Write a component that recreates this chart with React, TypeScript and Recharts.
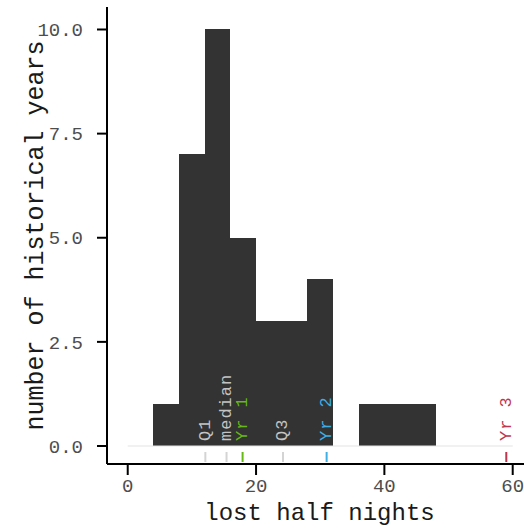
import React from 'react';
import {
  ComposedChart,
  XAxis,
  YAxis,
  ReferenceArea,
  ReferenceLine,
  Scatter,
} from 'recharts';

const binStarts = [4, 8, 12, 16, 20, 24, 28, 32, 36, 40, 44];
const binEnds = [8, 12, 16, 20, 24, 28, 32, 36, 40, 44, 48];
const binCounts = [1, 7, 10, 5, 3, 3, 4, 0, 1, 1, 1];

const markerNames = ['Q1', 'median', 'Yr 1', 'Q3', 'Yr 2', 'Yr 3'];
const markerValues = [12.1, 15.4, 17.9, 24.2, 31.0, 59.0];
const markerLineColors = ['#d4d4d4', '#d4d4d4', '#66b814', '#d4d4d4', '#3eaee6', '#c0344d'];
const markerTextColors = ['#c4c4c4', '#c4c4c4', '#66b814', '#c4c4c4', '#3eaee6', '#c0344d'];

const xTicks = [0, 20, 40, 60];
const yTicks = [0, 2.5, 5, 7.5, 10];
const xDomain = [-3.23, 61.76];
const yDomain = [-0.432, 10.54];
const baselineRange = [0, 60];

const FONT = '"Liberation Mono", "DejaVu Sans Mono", monospace';

const markerData = markerNames.map((name, i) => ({
  name,
  x: markerValues[i],
  y: 0,
  lineColor: markerLineColors[i],
  textColor: markerTextColors[i],
}));

const MarkerShape = (props: any) => {
  const { cx, cy, payload } = props;
  if (cx == null || cy == null) return null;
  const ty = cy - 5;
  return (
    <g>
      <line x1={cx} x2={cx} y1={cy + 6} y2={cy + 16} stroke={payload.lineColor} strokeWidth={2} />
      <text
        x={cx}
        y={ty}
        transform={`rotate(-90, ${cx}, ${ty})`}
        textAnchor="start"
        dominantBaseline="central"
        fontFamily={FONT}
        fontSize={17}
        letterSpacing={1}
        fill={payload.textColor}
      >
        {payload.name}
      </text>
    </g>
  );
};

const BinShape = (p: any) => (
  <rect
    x={p.x}
    y={p.y}
    width={p.width}
    height={p.height}
    fill="#333333"
    shapeRendering="crispEdges"
  />
);

export default function App() {
  return (
    <div style={{ position: 'fixed', left: 0, top: 0, background: '#fff' }}>
      <ComposedChart
        width={524}
        height={531}
        margin={{ top: 7, right: 0, bottom: 0, left: 0 }}
        style={{ fontFamily: FONT }}
      >
        <XAxis
          type="number"
          dataKey="x"
          domain={xDomain}
          ticks={xTicks}
          allowDataOverflow
          height={67}
          tickSize={11}
          tickMargin={4}
          axisLine={{ stroke: '#000', strokeWidth: 2 }}
          tickLine={{ stroke: '#000', strokeWidth: 2 }}
          tick={{ fill: '#4d4d4d', fontSize: 19, fontFamily: FONT }}
          label={{
            value: 'lost half nights',
            position: 'insideBottom',
            offset: 11,
            dx: 4,
            fill: '#1a1a1a',
            fontSize: 24,
            fontFamily: FONT,
          }}
        />
        <YAxis
          type="number"
          dataKey="y"
          domain={yDomain}
          ticks={yTicks}
          allowDataOverflow
          width={107}
          tickSize={10}
          tickMargin={14}
          tickFormatter={(v: number) => v.toFixed(1)}
          axisLine={{ stroke: '#000', strokeWidth: 2 }}
          tickLine={{ stroke: '#000', strokeWidth: 2 }}
          tick={{ fill: '#4d4d4d', fontSize: 19, fontFamily: FONT }}
          label={{
            value: 'number of historical years',
            angle: -90,
            position: 'center',
            dx: -19,
            fill: '#1a1a1a',
            fontSize: 25,
            fontFamily: FONT,
          }}
        />
        <ReferenceLine
          segment={[
            { x: baselineRange[0], y: 0 },
            { x: baselineRange[1], y: 0 },
          ]}
          stroke="#e3e3e3"
          strokeWidth={1}
        />
        {binCounts.map((c, i) =>
          c > 0 ? (
            <ReferenceArea
              key={i}
              x1={binStarts[i]}
              x2={binEnds[i]}
              y1={0}
              y2={c}
              fill="#333333"
              fillOpacity={1}
              shape={BinShape}
            />
          ) : null
        )}
        <Scatter data={markerData} dataKey="y" shape={MarkerShape} isAnimationActive={false} />
      </ComposedChart>
    </div>
  );
}
